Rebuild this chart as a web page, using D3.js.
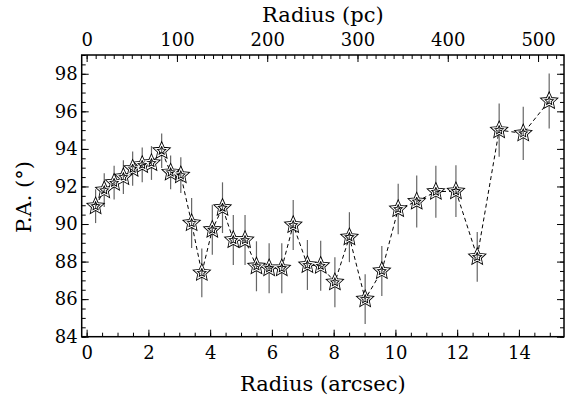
<!DOCTYPE html>
<html><head><meta charset="utf-8">
<script src="https://cdn.jsdelivr.net/npm/d3@7"></script>
<style>body{margin:0;background:#fff}svg{display:block}</style>
</head><body>
<svg id="c" width="576" height="401"></svg>
<script>
const radiusArcsec = [0.29,0.57,0.89,1.19,1.49,1.80,2.10,2.43,2.72,3.05,3.40,3.73,4.07,4.40,4.75,5.13,5.50,5.91,6.32,6.69,7.15,7.58,8.04,8.51,9.02,9.56,10.09,10.69,11.31,11.96,12.65,13.36,14.14,14.98];
const posAngle = [90.95,91.8,92.2,92.5,92.95,93.15,93.25,93.9,92.75,92.6,90.05,87.4,89.7,90.87,89.15,89.15,87.75,87.65,87.65,89.95,87.82,87.78,86.9,89.3,86.0,87.5,90.8,91.2,91.72,91.75,88.25,95.0,94.83,96.55];
const paError = [0.9,0.9,0.9,0.9,0.91,0.92,0.9,0.92,0.9,0.95,1.33,1.3,1.33,1.35,1.33,1.33,1.33,1.33,1.33,1.33,1.33,1.33,1.33,1.33,1.33,1.33,1.35,1.38,1.38,1.38,1.33,1.42,1.42,1.46];
const xTicks = [0,2,4,6,8,10,12,14];
const yTicks = [84,86,88,90,92,94,96,98];
const pcTicks = [0,100,200,300,400,500];
const pcPerArcsec = 34.2;

const svg = d3.select("#c");
const L = 81.7, R = 564, T = 55, B = 336.7;
const x = d3.scaleLinear().domain([-0.16, 15.46]).range([L, R]);
const y = d3.scaleLinear().domain([84, 99]).range([B, T]);
const xpc = d3.scaleLinear().domain([-0.16*pcPerArcsec, 15.46*pcPerArcsec]).range([L, R]);

const font = "DejaVu Serif";
const data = radiusArcsec.map((r,i)=>({r, pa: posAngle[i], e: paError[i]}));

function style(g, labels){
  g.select(".domain").remove();
  g.selectAll(".tick line").attr("stroke","#000").attr("stroke-width",1);
  g.selectAll("text").attr("font-family",font).attr("font-size",18).attr("fill","#000");
  if(!labels) g.selectAll("text").remove();
}
const minor = (a,b,s)=>d3.range(a,b+1e-9,s);

// bottom
svg.append("g").attr("transform",`translate(0,${B})`)
  .call(d3.axisBottom(x).tickValues(minor(0,15,0.5)).tickSize(-4).tickFormat(""))
  .call(g=>style(g,false));
svg.append("g").attr("transform",`translate(0,${B})`)
  .call(d3.axisBottom(x).tickValues(xTicks).tickSize(-7).tickPadding(10).tickFormat(d3.format("d")))
  .call(g=>style(g,true));
// top
svg.append("g").attr("transform",`translate(0,${T})`)
  .call(d3.axisTop(xpc).tickValues(minor(0,520,10)).tickSize(-4).tickFormat(""))
  .call(g=>style(g,false));
svg.append("g").attr("transform",`translate(0,${T})`)
  .call(d3.axisTop(xpc).tickValues(pcTicks).tickSize(-7).tickPadding(9).tickFormat(d3.format("d")))
  .call(g=>style(g,true));
// left
svg.append("g").attr("transform",`translate(${L},0)`)
  .call(d3.axisLeft(y).tickValues(minor(84,99,0.5)).tickSize(-4).tickFormat(""))
  .call(g=>style(g,false));
svg.append("g").attr("transform",`translate(${L},0)`)
  .call(d3.axisLeft(y).tickValues(yTicks).tickSize(-7).tickPadding(4).tickFormat(d3.format("d")))
  .call(g=>style(g,true));
// right
svg.append("g").attr("transform",`translate(${R},0)`)
  .call(d3.axisRight(y).tickValues(minor(84,99,0.5)).tickSize(-4).tickFormat(""))
  .call(g=>style(g,false));
svg.append("g").attr("transform",`translate(${R},0)`)
  .call(d3.axisRight(y).tickValues(yTicks).tickSize(-7).tickFormat(""))
  .call(g=>style(g,false));

svg.append("rect").attr("x",L).attr("y",T).attr("width",R-L).attr("height",B-T)
  .attr("fill","none").attr("stroke","#000").attr("stroke-width",1.5);

// dashed line
svg.append("path").datum(data)
  .attr("d", d3.line().x(d=>x(d.r)).y(d=>y(d.pa)))
  .attr("fill","none").attr("stroke","#000").attr("stroke-width",1).attr("stroke-dasharray","4,3");

// error bars
svg.append("g").selectAll("line").data(data).join("line")
  .attr("x1",d=>x(d.r)).attr("x2",d=>x(d.r))
  .attr("y1",d=>y(d.pa-d.e)).attr("y2",d=>y(d.pa+d.e))
  .attr("stroke","#666").attr("stroke-width",1.2);

// stars (fatter IDL-like star)
const fatStar = {draw(ctx, size){
  const ro = Math.sqrt(size), ri = ro*0.47;
  for(let k=0;k<10;k++){
    const a = -Math.PI/2 + k*Math.PI/5, rr = k%2 ? ri : ro;
    const px = rr*Math.cos(a), py = rr*Math.sin(a);
    k ? ctx.lineTo(px,py) : ctx.moveTo(px,py);
  }
  ctx.closePath();
}};
const star = d3.symbol().type(fatStar).size(46);
const sg = svg.append("g");
sg.selectAll("path.o").data(data).join("path").attr("class","o")
  .attr("transform",d=>`translate(${x(d.r)},${y(d.pa)})`).attr("d",star)
  .attr("fill","none").attr("stroke","#000").attr("stroke-width",2.8).attr("stroke-linejoin","miter");
sg.selectAll("path.i").data(data).join("path").attr("class","i")
  .attr("transform",d=>`translate(${x(d.r)},${y(d.pa)})`).attr("d",star)
  .attr("fill","none").attr("stroke","#fff").attr("stroke-width",1.1).attr("stroke-linejoin","miter");

// titles
svg.append("text").attr("x",(L+R)/2).attr("y",391).attr("text-anchor","middle")
  .attr("font-family",font).attr("font-size",21).text("Radius (arcsec)");
svg.append("text").attr("x",(L+R)/2).attr("y",22).attr("text-anchor","middle")
  .attr("font-family",font).attr("font-size",21).text("Radius (pc)");
svg.append("text").attr("transform","translate(31,197) rotate(-90)").attr("text-anchor","middle")
  .attr("font-family",font).attr("font-size",21).text("P.A. (°)");
</script>
</body></html>
